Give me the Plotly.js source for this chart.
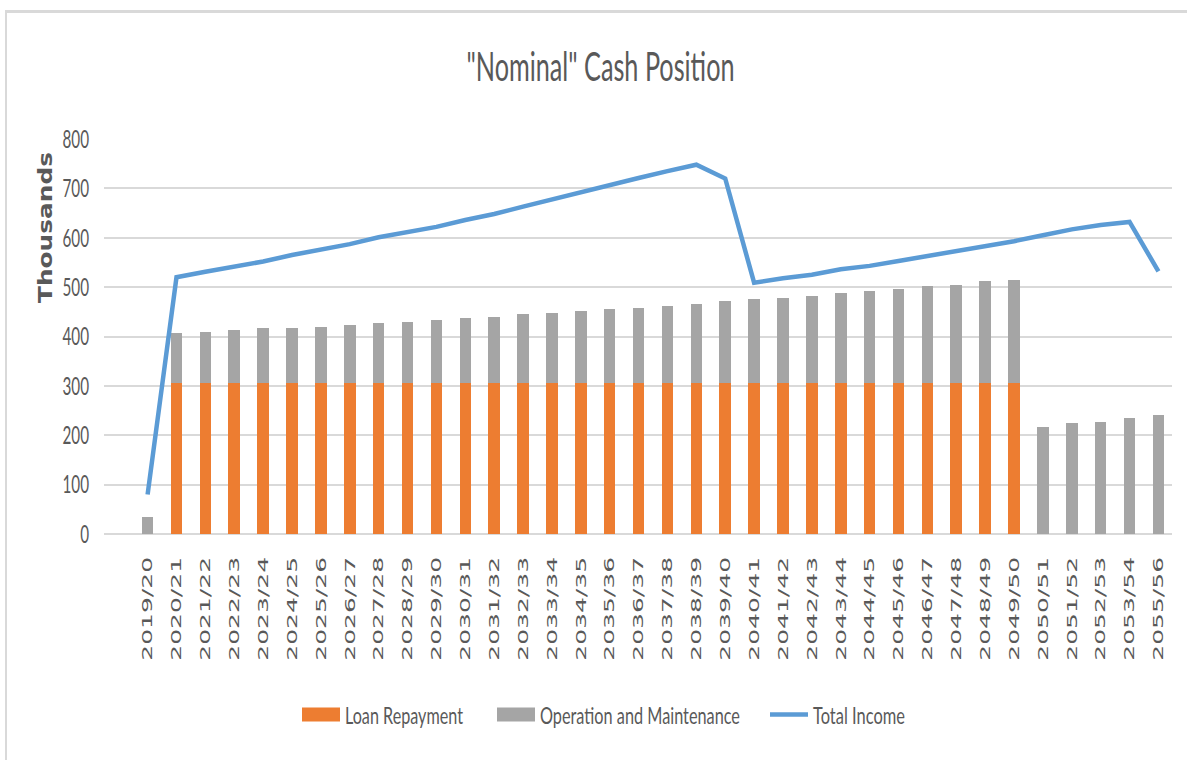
<!DOCTYPE html>
<html>
<head>
<meta charset="utf-8">
<script src="https://cdn.plot.ly/plotly-3.0.1.min.js"></script>
<style>
  html, body { margin: 0; padding: 0; background: #ffffff; }
  #wrap { position: relative; width: 1187px; height: 760px; overflow: hidden; }
  #chart { position: absolute; left: 0; top: 0; width: 1187px; height: 760px; }
  #frame { position: absolute; left: 5px; top: 10px; width: 1200px; height: 800px;
           border: 2px solid #d9d9d9; border-top-width: 3px; box-sizing: border-box; pointer-events: none; }
</style>
</head>
<body>
<div id="wrap">
  <div id="chart"></div>
  <div id="frame"></div>
</div>
<script>
const categories = ["2019/20","2020/21","2021/22","2022/23","2023/24","2024/25","2025/26","2026/27",
  "2027/28","2028/29","2029/30","2030/31","2031/32","2032/33","2033/34","2034/35","2035/36",
  "2036/37","2037/38","2038/39","2039/40","2040/41","2041/42","2042/43","2043/44","2044/45",
  "2045/46","2046/47","2047/48","2048/49","2049/50","2050/51","2051/52","2052/53","2053/54","2055/56"];

const loanRepayment = [null,305,305,305,305,305,305,305,305,305,305,305,305,305,305,305,305,
  305,305,305,305,305,305,305,305,305,305,305,305,305,305,null,null,null,null,null];

const operationMaintenance = [34,102,105,109,112,112,115,119,122,125,129,132,135,140,143,146,150,
  153,156,161,167,170,173,177,183,187,191,197,200,207,210,217,224,227,234,241];

const totalIncome = [80,520,531,541,552,565,576,587,601,612,622,636,648,663,678,693,707,
  721,735,748,720,509,518,525,536,543,553,563,571,582,593,605,617,626,632,532];

const yTicks = [0,100,200,300,400,500,600,700,800];

const calib = "Lato, 'Open Sans', 'Noto Sans', sans-serif";
const verd = "'DejaVu Sans', Verdana, sans-serif";
const textColor = "#595959";

const traces = [
  { type: "bar", name: "Loan Repayment", x: categories, y: loanRepayment,
    marker: { color: "#ED7D31" }, legend: "legend" },
  { type: "bar", name: "Operation and Maintenance", x: categories, y: operationMaintenance,
    marker: { color: "#A5A5A5" }, legend: "legend2" },
  { type: "scatter", mode: "lines", name: "Total Income", x: categories, y: totalIncome,
    line: { color: "#5B9BD5", width: 4.5 }, legend: "legend3" }
];

function legendAt(px) {
  return {
    orientation: "h", xref: "container", yref: "container",
    x: px / 1187, xanchor: "left", y: 1 - 715 / 760, yanchor: "middle",
    font: { family: calib, size: 24, color: textColor },
    itemwidth: 38, bgcolor: "rgba(0,0,0,0)", borderwidth: 0
  };
}

const layout = {
  width: 1187, height: 760,
  paper_bgcolor: "#ffffff", plot_bgcolor: "#ffffff",
  margin: { l: 104, r: 15, t: 139, b: 226, autoexpand: false },
  barmode: "stack",
  bargap: 0.6,
  showlegend: true,
  title: { text: '"Nominal" Cash Position', xref: "container", x: 600.5 / 1187, xanchor: "center",
           yref: "container", y: 1 - 67 / 760, yanchor: "middle",
           font: { family: calib, size: 41, color: textColor } },
  xaxis: {
    type: "category", categoryorder: "array", categoryarray: categories,
    range: [-1.51, 35.47],
    tickangle: -90, ticks: "", showgrid: false, showline: false, zeroline: false,
    tickfont: { family: verd, size: 14.7, color: textColor },
    ticklabelstandoff: 19
  },
  yaxis: {
    range: [0, 800], tickvals: yTicks, ticktext: yTicks.map(String),
    showgrid: true, gridcolor: "#d9d9d9", gridwidth: 2,
    zeroline: true, zerolinecolor: "#d9d9d9", zerolinewidth: 2,
    showline: false, ticks: "",
    tickfont: { family: calib, size: 25, color: textColor },
    ticklabelstandoff: 14
  },
  legend: legendAt(297),
  legend2: legendAt(492),
  legend3: legendAt(765),
  annotations: [{
    text: "Thousands", xref: "paper", yref: "paper",
    x: (45.3 - 104) / 1068, y: (534.3 - 227.4) / 395, xanchor: "center", yanchor: "middle",
    textangle: -90, showarrow: false,
    font: { family: verd, size: 20, color: textColor, weight: "bold" }
  }]
};

function fitLen(el, len) {
  el.setAttribute("textLength", len.toFixed(2));
  el.setAttribute("lengthAdjust", "spacingAndGlyphs");
}
function fitScale(el, k) {
  el.removeAttribute("textLength");
  el.removeAttribute("lengthAdjust");
  fitLen(el, el.getComputedTextLength() * k);
}

function legendTarget(s) {
  if (s === "Loan Repayment") return 118;
  if (s === "Operation and Maintenance") return 200;
  if (s === "Total Income") return 92;
  return null;
}

// Horizontal squeeze of a start-anchored text around its own x position
function squeeze(el, target) {
  if (!el.dataset.natural) {
    el.removeAttribute("textLength");
    el.removeAttribute("lengthAdjust");
    el.dataset.natural = String(el.getComputedTextLength());
  }
  const nat = parseFloat(el.dataset.natural);
  if (!(nat > 0)) return;
  const k = target / nat;
  const x0 = parseFloat(el.getAttribute("x") || "0");
  el.setAttribute("transform", "translate(" + (x0 * (1 - k)).toFixed(3) + ",0) scale(" + k.toFixed(4) + ",1)");
}

function applyFixes(gd) {
  const t = gd.querySelector(".gtitle");
  if (t) fitLen(t, 268);
  gd.querySelectorAll(".ytick text").forEach(function (el) { fitScale(el, 0.61); });
  gd.querySelectorAll(".xtick text").forEach(function (el) { fitScale(el, 1.7); });
  gd.querySelectorAll(".annotation-text").forEach(function (el) { fitLen(el, 151); });
  gd.querySelectorAll("text").forEach(function (el) {
    const L = legendTarget((el.textContent || "").trim());
    if (L) squeeze(el, L);
  });
  gd.querySelectorAll(".legendpoints path").forEach(function (p) {
    p.setAttribute("d", "M19,7H-19V-7H19Z");
  });
}

const gdEl = document.getElementById("chart");
Plotly.newPlot(gdEl, traces, layout, { displayModeBar: false, staticPlot: true }).then(function (gd) {
  applyFixes(gd);
  gd.on("plotly_afterplot", function () { applyFixes(gd); });
  [0, 50, 200, 600].forEach(function (ms) { setTimeout(function () { applyFixes(gd); }, ms); });
});
</script>
</body>
</html>
